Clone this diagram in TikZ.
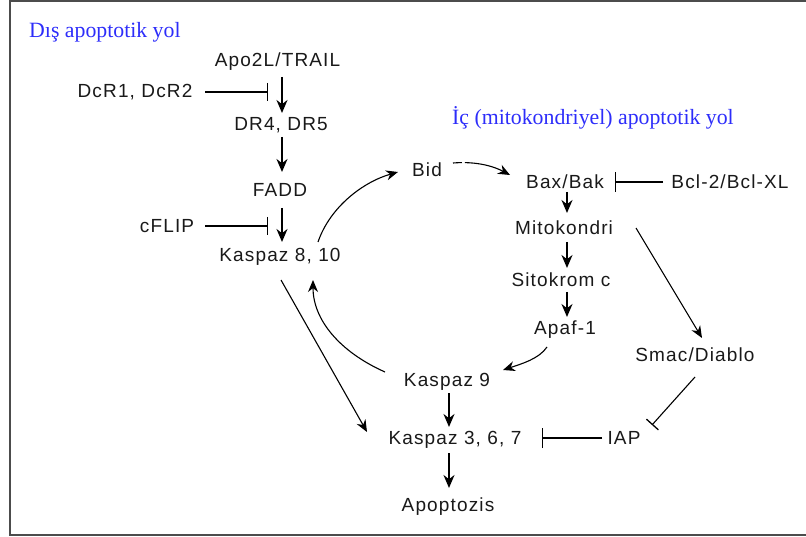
\documentclass[tikz,border=0pt]{standalone}
\usepackage{fontspec}
\setmainfont{Liberation Sans}[LetterSpace=6]
\newfontfamily\headfont{Liberation Serif}
\usetikzlibrary{arrows.meta,calc}
\definecolor{pathblue}{RGB}{45,45,250}

\begin{document}
\begin{tikzpicture}[
    x=1pt,y=-1pt,
    every node/.style={font=\fontsize{19}{22}\selectfont, text=black!90, inner sep=0pt},
    heading/.style={font=\fontsize{21.8}{24}\selectfont\headfont, text=pathblue, anchor=west},
    frame/.style={draw=black!70, line width=2.4pt},
    act/.style={draw=black, line width=1.1pt, -{Stealth[length=12pt,width=10pt]}},
    mainact/.style={act, line width=1.9pt, -{Stealth[length=13pt,width=11pt]}},
    block/.style={draw=black, line width=1.1pt, -{Bar[width=18pt,line width=1.3pt]}}
]
    \useasboundingbox (0,0) rectangle (806,537);
    \draw[frame] (815,1) -- (10,1) -- (10,535) -- (815,535);

    \node[heading] (extr) at (29,32) {Dış apoptotik yol};
    \node[heading] (intr) at (452,118) {İç (mitokondriyel) apoptotik yol};

    % extrinsic chain
    \node (apo)   at (277.5,62) {Apo2L/TRAIL};
    \node (dcr)   at (135,92)   {DcR1, DcR2};
    \node (dr)    at (281,125)  {DR4, DR5};
    \node (fadd)  at (280,190)  {FADD};
    \node (cflip) at (167,226)  {cFLIP};
    \node (k810)  at (280,257)  {Kaspaz 8, 10};

    % mitochondrial chain
    \node (bid)  at (427,170) {Bid};
    \node (bax)  at (565,182) {Bax/Bak};
    \node (bcl)  at (730,182) {Bcl-2/Bcl-XL};
    \node (mito) at (564,228) {Mitokondri};
    \node (sito) at (561,280) {Sitokrom c};
    \node (apaf) at (565,330) {Apaf-1};
    \node (smac) at (695,355) {Smac/Diablo};
    \node (k9)   at (447,382) {Kaspaz 9};
    \node (k367) at (455,440) {Kaspaz 3, 6, 7};
    \node (iap)  at (624,438) {IAP};
    \node (apop) at (448,507) {Apoptozis};

    \coordinate (barA) at (268,92);
    \coordinate (barB) at (268,226);
    \coordinate (barC) at (615,182);
    \coordinate (barD) at (652,425);
    \coordinate (barE) at (542,438);

    \draw[mainact] ($(apo)+(4.5,15)$) -- ($(dr)+(1,-12)$);
    \draw[mainact] ($(dr)+(1,12)$) -- ($(fadd)+(2,-18)$);
    \draw[mainact] ($(fadd)+(2,18)$) -- ($(k810)+(2,-15)$);
    \draw[block] ($(dcr)+(70,0)$) -- (barA);
    \draw[block] ($(cflip)+(38,0)$) -- (barB);

    \draw[act] ($(k810)+(38,-15)$) .. controls +(12,-35) and +(-35,10) .. ($(bid)+(-29,2)$);
    \draw[act, dash pattern=on 9pt off 3pt on 80pt] ($(bid)+(26,-7)$) .. controls +(25,-2) and +(-15,-8) .. ($(bax)+(-55,-7)$);
    \draw[block, -{Bar[width=20pt,line width=1.3pt]}] ($(bcl)+(-67,0)$) -- (barC);

    \draw[mainact] ($(bax)+(2,10)$) -- ($(mito)+(3,-15)$);
    \draw[mainact] ($(mito)+(3,14)$) -- ($(sito)+(6,-12)$);
    \draw[mainact] ($(sito)+(6,12)$) -- ($(apaf)+(2,-13)$);
    \draw[act] ($(apaf)+(-18,17)$) .. controls +(-8,12) and +(18,-6) .. ($(k9)+(56,-12)$);
    \draw[act] ($(mito)+(72,0)$) -- ($(smac)+(7,-17)$);
    \draw[block, -{Bar[width=16pt,line width=1.3pt]}] ($(smac)+(0,22)$) -- (barD);
    \draw[block, -{Bar[width=20pt,line width=1.3pt]}] ($(iap)+(-22,0)$) -- (barE);

    \draw[mainact] ($(k9)+(2,11)$) -- ($(k367)+(-6,-13)$);
    \draw[mainact] ($(k367)+(-6,13)$) -- ($(apop)+(1,-19)$);

    \draw[act] ($(k810)+(1,23)$) -- ($(k367)+(-88,-8)$);
    \draw[act] ($(k9)+(-62,-10)$) .. controls +(-45,-20) and +(0,40) .. ($(k810)+(33,23)$);
\end{tikzpicture}
\end{document}
